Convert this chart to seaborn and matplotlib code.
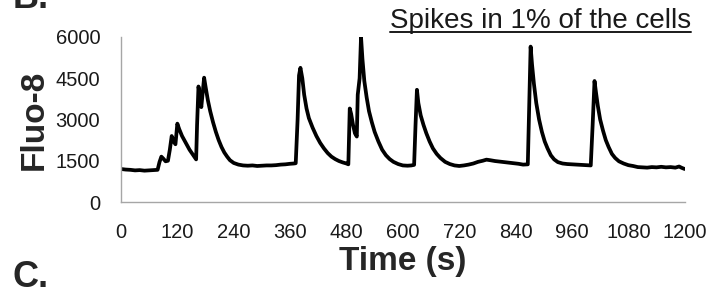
import pandas as pd
import seaborn as sns
import matplotlib.pyplot as plt
from matplotlib.lines import Line2D

# Fluo-8 trace (time in s, fluorescence)
time_s = [0, 10, 20, 30, 40, 50, 60, 70, 78, 82, 86, 90, 95, 100, 104, 108, 112, 116,
          120, 124, 130, 138, 146, 154, 160, 162, 165, 168, 171, 174, 177, 180, 185,
          190, 196, 202, 208, 214, 220, 226, 232, 240, 250, 260, 270, 280, 290, 300,
          310, 320, 330, 340, 350, 360, 368, 372, 376, 379, 382, 386, 390, 395, 400,
          408, 416, 424, 432, 440, 448, 456, 464, 472, 480, 484, 487, 490, 494, 498,
          502, 504, 508, 511, 514, 518, 523, 528, 534, 540, 548, 556, 564, 572, 580,
          590, 600, 610, 618, 624, 627, 630, 633, 638, 644, 650, 657, 664, 672, 680,
          690, 700, 710, 720, 730, 740, 750, 760, 770, 778, 786, 796, 806, 816, 826,
          836, 846, 856, 866, 869, 872, 875, 879, 884, 890, 896, 902, 908, 915, 922,
          930, 940, 950, 960, 970, 980, 990, 1000, 1004, 1008, 1011, 1015, 1020, 1026,
          1032, 1038, 1045, 1052, 1060, 1070, 1080, 1090, 1100, 1110, 1120, 1130, 1140,
          1150, 1160, 1170, 1180, 1188, 1194, 1200]
fluo = [1200, 1180, 1170, 1150, 1160, 1140, 1150, 1160, 1170, 1450, 1650, 1580, 1480,
        1500, 1900, 2400, 2200, 2100, 2850, 2650, 2400, 2150, 1900, 1700, 1550, 2800,
        4200, 3900, 3450, 4000, 4520, 4200, 3700, 3300, 2900, 2550, 2250, 2000, 1800,
        1650, 1520, 1420, 1360, 1330, 1320, 1330, 1310, 1320, 1330, 1330, 1340, 1360,
        1370, 1390, 1400, 1410, 3000, 4600, 4880, 4500, 3900, 3400, 3050, 2700, 2400,
        2150, 1950, 1780, 1650, 1560, 1490, 1440, 1400, 1370, 3400, 3200, 2800, 2500,
        2380, 3900, 4500, 6000, 5200, 4400, 3800, 3300, 2900, 2550, 2200, 1900, 1700,
        1560, 1460, 1380, 1330, 1320, 1330, 1350, 2800, 4080, 3600, 3150, 2800, 2500,
        2200, 1950, 1750, 1600, 1460, 1380, 1330, 1310, 1330, 1360, 1400, 1460, 1500,
        1540, 1520, 1490, 1470, 1450, 1430, 1410, 1390, 1360, 1370, 3500, 5650, 5000,
        4300, 3600, 3000, 2550, 2200, 1950, 1700, 1550, 1450, 1400, 1380, 1370, 1360,
        1350, 1340, 1330, 2800, 4400, 4000, 3500, 3000, 2600, 2250, 2000, 1750, 1600,
        1480, 1400, 1340, 1310, 1270, 1260, 1250, 1270, 1260, 1280, 1260, 1270, 1250,
        1290, 1240, 1200]

x_ticks = list(range(0, 1201, 120))
y_ticks = [0, 1500, 3000, 4500, 6000]

df = pd.DataFrame({'Time': time_s, 'Fluo': fluo})

sns.set_style('white')
plt.rcParams['font.family'] = ['Liberation Sans', 'DejaVu Sans']

fig = plt.figure(figsize=(7.2, 2.89), dpi=100)
ax = fig.add_axes([0.168, 0.301, 0.783, 0.571])

sns.lineplot(data=df, x='Time', y='Fluo', color='black', linewidth=2.7, ax=ax)

ax.set_xlim(0, 1200)
ax.set_ylim(0, 6000)
ax.set_xticks(x_ticks)
ax.set_yticks(y_ticks)
ax.tick_params(axis='both', labelsize=14.5, colors='#a6a6a6', labelcolor='#1a1a1a',
               length=5, width=1, direction='out')
ax.tick_params(axis='x', pad=10)
ax.tick_params(axis='y', pad=10)

sns.despine(ax=ax)
for s in ['left', 'bottom']:
    ax.spines[s].set_color('#a6a6a6')
    ax.spines[s].set_linewidth(1)

ax.set_xlabel('Time (s)', fontsize=24, fontweight='bold', labelpad=3)
ax.set_ylabel('Fluo-8', fontsize=24, fontweight='bold', labelpad=4)

# panel letters and title
fig.text(0.018, 1 - 8 / 289, 'B.', fontsize=26, fontweight='bold', va='baseline')
fig.text(0.018, 1 - 287 / 289, 'C.', fontsize=26, fontweight='bold', va='baseline')
t = fig.text(691 / 720, 1 - 28 / 289, 'Spikes in 1% of the cells', fontsize=20,
             ha='right', va='baseline', color='#1a1a1a')

fig.canvas.draw()
bb = t.get_window_extent().transformed(fig.transFigure.inverted())
uy = 1 - 32 / 289
fig.add_artist(Line2D([bb.x0, bb.x1], [uy, uy], transform=fig.transFigure,
                      color='#1a1a1a', linewidth=1.4))

fig.savefig('out.png', dpi=100)
